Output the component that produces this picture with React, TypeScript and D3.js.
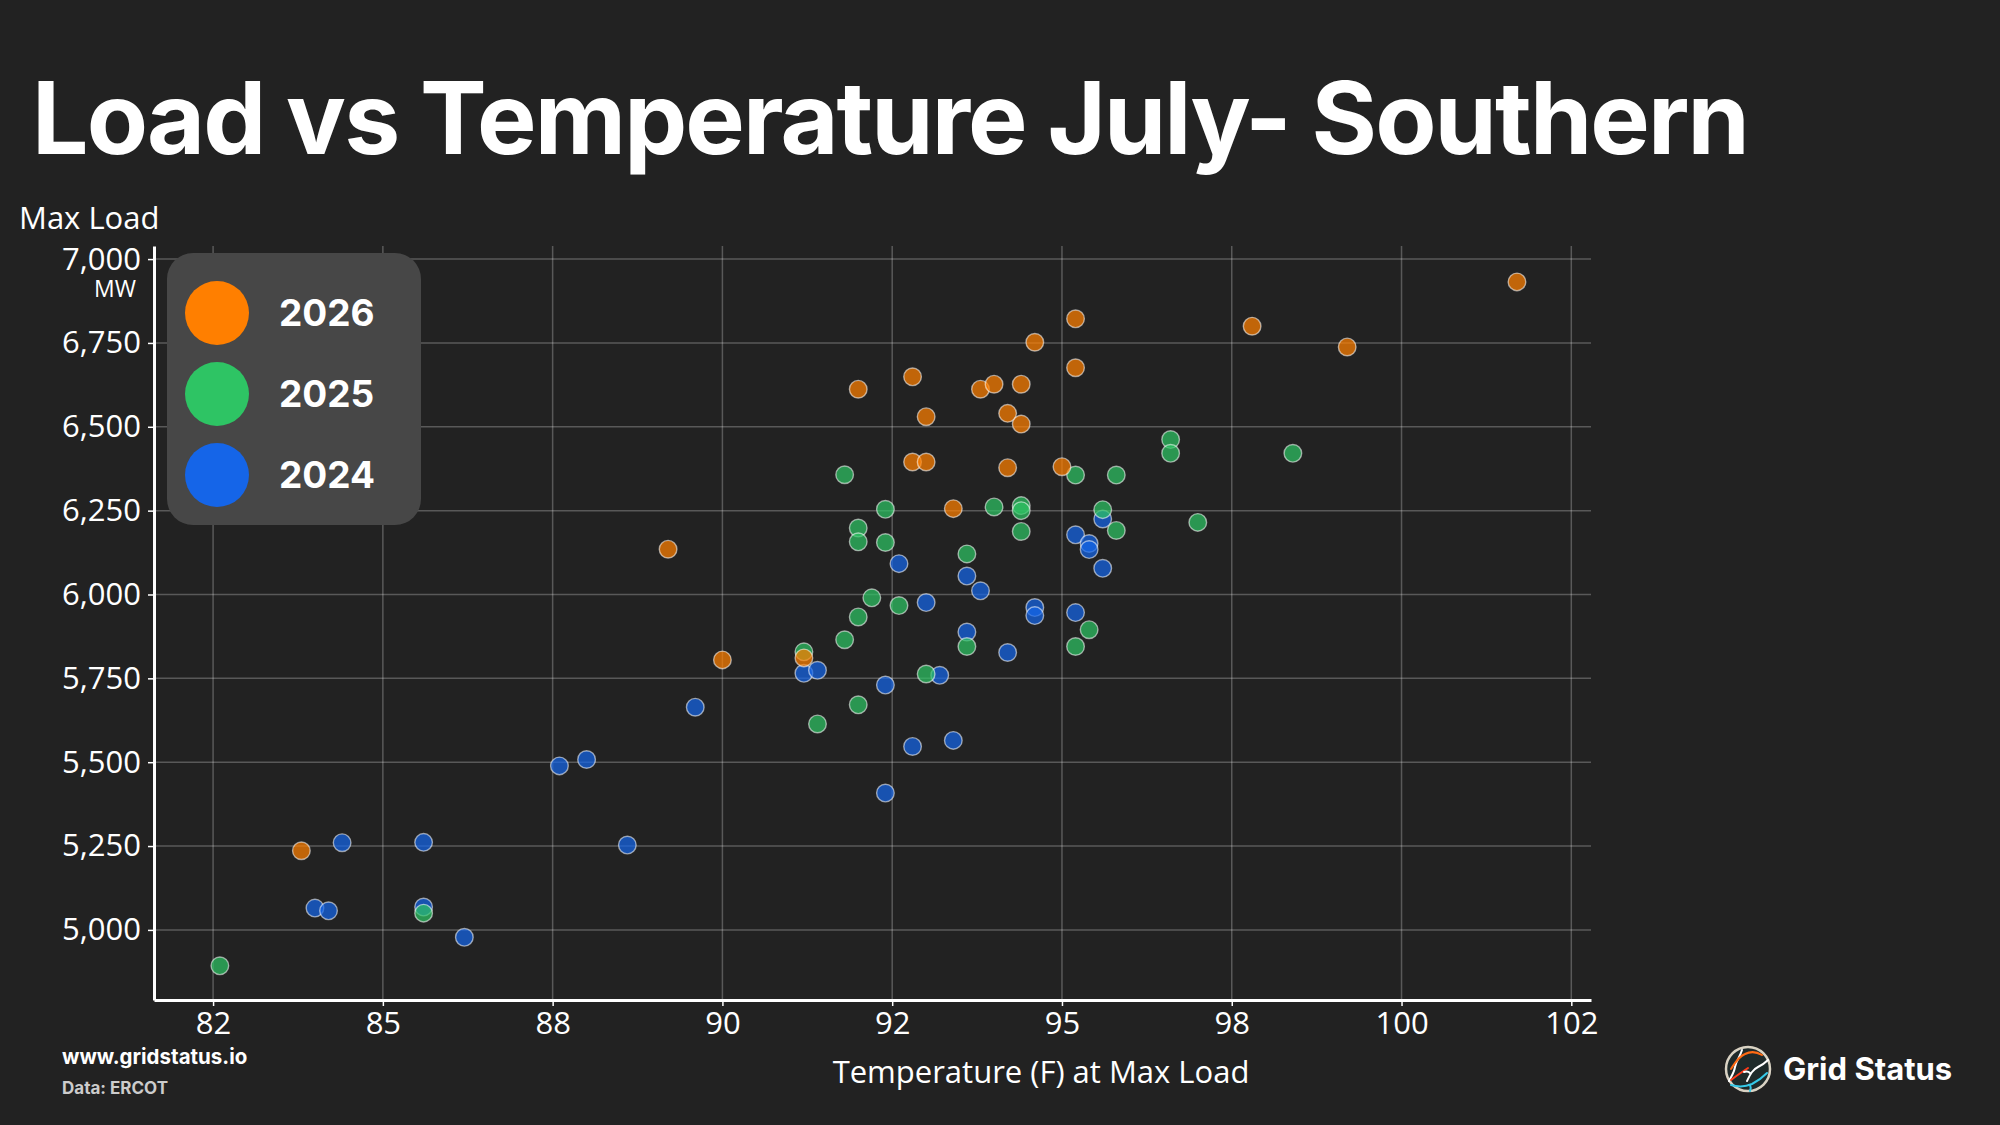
import * as d3 from 'd3';
import { useEffect, useRef } from 'react';

// Max load (MW) vs temperature at max load (F), ERCOT Southern, July
const temps2026 = [101.7, 95.2, 97.8, 94.6, 99.2, 95.2, 92.8, 92.0, 93.8, 94.0, 94.4, 93.0, 94.2, 94.4, 92.8, 93.0, 94.2, 95.0, 93.4, 89.2, 90.0, 91.2, 83.8];
const loads2026 = [6932, 6822, 6800, 6752, 6738, 6676, 6649, 6612, 6612, 6627, 6627, 6530, 6540, 6508, 6395, 6395, 6378, 6381, 6256, 6135, 5805, 5811, 5236];

const temps2025 = [96.6, 96.6, 98.4, 91.8, 95.2, 95.8, 92.4, 94.0, 94.4, 94.4, 95.6, 97.0, 92.0, 92.0, 92.4, 94.4, 95.8, 93.6, 92.2, 92.6, 92.0, 95.4, 91.8, 93.6, 95.2, 91.2, 93.0, 92.0, 91.4, 85.6, 82.6];
const loads2025 = [6462, 6421, 6421, 6357, 6356, 6356, 6254, 6261, 6265, 6250, 6253, 6215, 6198, 6157, 6155, 6188, 6191, 6121, 5990, 5967, 5933, 5895, 5865, 5845, 5845, 5829, 5763, 5671, 5614, 5050, 4893];

const temps2024 = [95.6, 95.2, 95.4, 95.4, 92.6, 95.6, 93.6, 93.8, 93.0, 94.6, 94.6, 95.2, 93.6, 94.2, 91.2, 91.4, 93.2, 92.4, 89.6, 93.4, 92.8, 88.0, 87.6, 92.4, 84.4, 85.6, 88.6, 84.0, 84.2, 85.6, 86.2];
const loads2024 = [6225, 6178, 6152, 6134, 6092, 6078, 6055, 6011, 5976, 5961, 5937, 5946, 5888, 5827, 5765, 5774, 5759, 5730, 5664, 5565, 5547, 5508, 5489, 5408, 5260, 5261, 5253, 5065, 5057, 5068, 4978];

const years = ['2024', '2025', '2026'];
const legendYears = ['2026', '2025', '2024'];
const colors: Record<string, string> = { '2026': '#FF7F00', '2025': '#2EC464', '2024': '#1565E8' };

const xTicks = [82.5, 85, 87.5, 90, 92.5, 95, 97.5, 100, 102.5];
const xTickLabels = ['82', '85', '88', '90', '92', '95', '98', '100', '102'];
const yTicks = [5000, 5250, 5500, 5750, 6000, 6250, 6500, 6750, 7000];

interface Pt { year: string; temp: number; load: number }

const points: Pt[] = [
  ...temps2024.map((t, i) => ({ year: '2024', temp: t, load: loads2024[i] })),
  ...temps2025.map((t, i) => ({ year: '2025', temp: t, load: loads2025[i] })),
  ...temps2026.map((t, i) => ({ year: '2026', temp: t, load: loads2026[i] })),
];

const W = 2000;
const H = 1125;
const sans = '"Open Sans", "Noto Sans", sans-serif';
const bold = 'Inter, "Open Sans", sans-serif';

export default function App() {
  const svgRef = useRef<SVGSVGElement>(null);

  useEffect(() => {
    document.body.style.margin = '0';
    document.body.style.background = '#222222';
    if (!svgRef.current) return;

    const svg = d3.select(svgRef.current);
    svg.selectAll('*').remove();

    const margin = { top: 246, right: 409, bottom: 125, left: 154 };
    const width = W - margin.left - margin.right;
    const height = H - margin.top - margin.bottom;

    svg.append('rect').attr('width', W).attr('height', H).attr('fill', '#222222');

    // Title
    svg.append('text')
      .attr('x', 32).attr('y', 154)
      .attr('font-family', bold).attr('font-weight', 700).attr('font-size', 100)
      .attr('letter-spacing', -1.9)
      .attr('fill', '#ffffff')
      .text('Load vs Temperature July- Southern');

    const g = svg.append('g').attr('transform', `translate(${margin.left},${margin.top})`);

    const x = d3.scaleLinear().domain([81.63, 102.79]).range([0, width]);
    const y = d3.scaleLinear().domain([4791, 7039]).range([height, 0]);

    // Grid
    g.append('g').selectAll('line').data(xTicks).join('line')
      .attr('x1', (d) => x(d)).attr('x2', (d) => x(d))
      .attr('y1', 0).attr('y2', height)
      .attr('stroke', '#ffffff').attr('stroke-opacity', 0.25).attr('stroke-width', 1.5);
    g.append('g').selectAll('line').data(yTicks).join('line')
      .attr('x1', 0).attr('x2', width)
      .attr('y1', (d) => y(d)).attr('y2', (d) => y(d))
      .attr('stroke', '#ffffff').attr('stroke-opacity', 0.25).attr('stroke-width', 1.5);

    // Points, oldest year first so newer years sit on top
    years.forEach((yr) => {
      g.append('g').selectAll('circle').data(points.filter((p) => p.year === yr)).join('circle')
        .attr('cx', (d) => x(d.temp)).attr('cy', (d) => y(d.load))
        .attr('r', 8.8)
        .attr('fill', colors[yr]).attr('fill-opacity', 0.72)
        .attr('stroke', '#ffffff').attr('stroke-opacity', 0.55).attr('stroke-width', 1.4);
    });

    // Axes
    g.append('g').attr('transform', `translate(0,${height})`)
      .call(d3.axisBottom(x).tickValues(xTicks).tickSize(6).tickSizeOuter(0).tickPadding(6)
        .tickFormat((_d, i) => xTickLabels[i]))
      .call((ag) => ag.select('.domain').attr('stroke', '#ffffff').attr('stroke-width', 3))
      .call((ag) => ag.selectAll('.tick line').attr('stroke', '#ffffff').attr('stroke-width', 1.5))
      .call((ag) => ag.selectAll('.tick text').attr('font-size', 31).attr('font-family', sans).attr('fill', '#ffffff'));

    g.append('g')
      .call(d3.axisLeft(y).tickValues(yTicks).tickSize(6).tickSizeOuter(0).tickPadding(7)
        .tickFormat(d3.format(',') as (d: d3.NumberValue) => string))
      .call((ag) => ag.select('.domain').attr('stroke', '#ffffff').attr('stroke-width', 3))
      .call((ag) => ag.selectAll('.tick line').attr('stroke', '#ffffff').attr('stroke-width', 1.5))
      .call((ag) => ag.selectAll('.tick text').attr('font-size', 31).attr('font-family', sans).attr('fill', '#ffffff'));

    svg.append('text')
      .attr('x', 136).attr('y', 297).attr('text-anchor', 'end')
      .attr('font-family', sans).attr('font-size', 23).attr('fill', '#ffffff')
      .text('MW');

    svg.append('text')
      .attr('x', 19).attr('y', 229)
      .attr('font-family', sans).attr('font-size', 31).attr('fill', '#ffffff')
      .text('Max Load');

    svg.append('text')
      .attr('x', 1041).attr('y', 1083).attr('text-anchor', 'middle')
      .attr('font-family', sans).attr('font-size', 31).attr('fill', '#ffffff')
      .text('Temperature (F) at Max Load');

    // Legend
    const lg = svg.append('g');
    lg.append('rect')
      .attr('x', 167).attr('y', 253).attr('width', 254).attr('height', 272)
      .attr('rx', 26).attr('fill', '#474747');
    legendYears.forEach((yr, i) => {
      const cy = 313 + i * 81;
      lg.append('circle').attr('cx', 217).attr('cy', cy).attr('r', 32).attr('fill', colors[yr]);
      lg.append('text')
        .attr('x', 279).attr('y', cy + 13)
        .attr('font-family', bold).attr('font-weight', 700).attr('font-size', 37)
        .attr('fill', '#ffffff')
        .text(yr);
    });

    // Footer
    svg.append('text')
      .attr('x', 62).attr('y', 1064)
      .attr('font-family', bold).attr('font-weight', 700).attr('font-size', 20.5)
      .attr('fill', '#ffffff')
      .text('www.gridstatus.io');
    svg.append('text')
      .attr('x', 62).attr('y', 1094)
      .attr('font-family', bold).attr('font-weight', 700).attr('font-size', 17)
      .attr('fill', '#cccccc')
      .text('Data: ERCOT');

    // Logo
    const logo = svg.append('g').attr('transform', 'translate(1748,1069)');
    logo.append('circle').attr('r', 22).attr('fill', '#1f2a2a').attr('stroke', '#d9d2c3').attr('stroke-width', 2.5);
    const strokes: [string, string][] = [
      ['#ffffff', 'M-6,-19 C-8,-12 -12,-8 -13,-2 C-14,4 -17,8 -19,12'],
      ['#ff6a13', 'M-17,0 C-13,-6 -10,-12 -3,-15 C3,-18 9,-17 14,-14'],
      ['#ff3b1a', 'M-17,11 C-12,7 -6,3 0,-1'],
      ['#ffffff', 'M-1,12 C2,6 4,1 10,-2 C14,-4 17,-6 20,-9'],
      ['#35c9e8', 'M-17,16 C-10,18 -3,18 4,15 C10,12 15,8 19,4'],
      ['#35c9e8', 'M2,16 C3,18 3,20 2,22'],
      ['#ffffff', 'M-4,3 C-1,2 1,3 2,4'],
    ];
    strokes.forEach(([c, d]) => {
      logo.append('path').attr('d', d).attr('fill', 'none').attr('stroke', c).attr('stroke-width', 2).attr('stroke-linecap', 'round');
    });
    svg.append('text')
      .attr('x', 1783).attr('y', 1080)
      .attr('font-family', bold).attr('font-weight', 700).attr('font-size', 31)
      .attr('fill', '#ffffff')
      .text('Grid Status');
  }, []);

  return <svg ref={svgRef} width={W} height={H} style={{ display: 'block' }} />;
}
